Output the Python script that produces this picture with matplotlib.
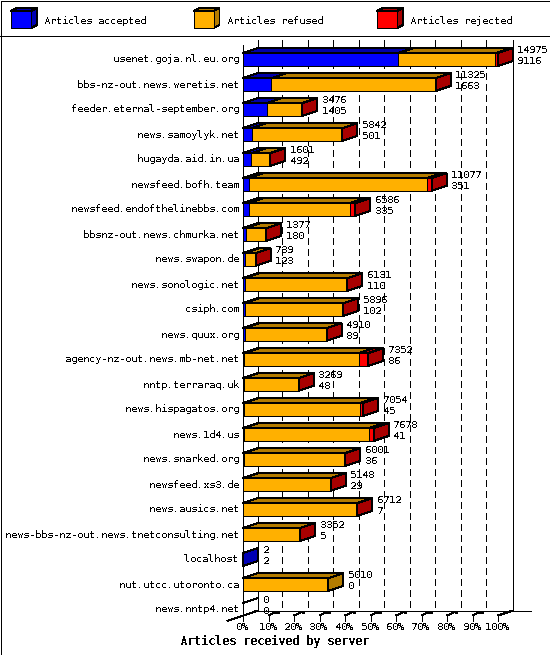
#!/usr/bin/env python
#
# Articles received by server, stacked 3D-look bars drawn by hand
#

import matplotlib
matplotlib.use("Agg")
import matplotlib.pyplot as plt
from matplotlib.patches import Polygon, Rectangle

servers = ["usenet.goja.nl.eu.org", "bbs-nz-out.news.weretis.net",
           "feeder.eternal-september.org", "news.samoylyk.net",
           "hugayda.aid.in.ua", "newsfeed.bofh.team",
           "newsfeed.endofthelinebbs.com", "bbsnz-out.news.chmurka.net",
           "news.swapon.de", "news.sonologic.net", "csiph.com",
           "news.quux.org", "agency-nz-out.news.mb-net.net",
           "nntp.terraraq.uk", "news.hispagatos.org", "news.1d4.us",
           "news.snarked.org", "newsfeed.xs3.de", "news.ausics.net",
           "news-bbs-nz-out.news.tnetconsulting.net", "localhost",
           "nut.utcc.utoronto.ca", "news.nntp4.net"]
totals = [14975, 11325, 3476, 5842, 1601, 11077, 6586, 1377, 739, 6131, 5896,
          4910, 7352, 3269, 7054, 7678, 6001, 5148, 6712, 3352, 2, 5010, 0]
accepted = [9116, 1663, 1405, 501, 492, 351, 335, 180, 123, 110, 102,
            89, 86, 48, 45, 41, 36, 29, 7, 5, 2, 0, 0]
# not printed in the chart, estimated from the width of the red segments
rejected = [150, 30, 10, 5, 3, 260, 330, 2, 1, 5, 3,
            4, 560, 2, 190, 280, 3, 10, 3, 5, 0, 0, 0]
tick_labels = ["0%", "10%", "20%", "30%", "40%", "50%", "60%", "70%", "80%",
               "90%", "100%"]
legend_labels = ["Articles accepted", "Articles refused", "Articles rejected"]

BLUE = ("#0000ff", "#0000a8", "#0000b4")
ORANGE = ("#ffb000", "#b47c00", "#b47c00")
RED = ("#ff0000", "#a80000", "#a80000")

PX = 0.72  # one pixel line width at 100 dpi
FONT = "DejaVu Sans Mono"
SIZE = 7.2

plt.rcParams["text.antialiased"] = False
plt.rcParams["text.hinting"] = "native"
plt.rcParams["text.hinting_factor"] = 1

W, H = 550, 655
X0, X100 = 243, 498      # front of the 0% and 100% lines
ROW0, PITCH = 59.5, 25   # centre of first row, row spacing
DX = 15.0 / (X100 - X0)  # depth of the bars in axis units
DY = 5.0 / PITCH
HALF = 6.4 / PITCH       # half height of a bar

fig = plt.figure(figsize=(W / 100, H / 100), dpi=100, facecolor="white")

# pixel layer for frame, legend and title
lax = fig.add_axes([0, 0, 1, 1])
lax.set_xlim(0, W)
lax.set_ylim(H, 0)
lax.axis("off")

# data layer, x is share of the largest total, y is row number
ax = fig.add_axes([0, 0, 1, 1])
ax.patch.set_alpha(0)
ax.set_xlim(-X0 / (X100 - X0), (W - X0) / (X100 - X0))
ax.set_ylim((H - ROW0) / PITCH, -ROW0 / PITCH)
ax.axis("off")


def face(points, color, z=3):
    ax.add_patch(Polygon(points, closed=True, facecolor=color, edgecolor="black",
                         linewidth=PX, antialiased=False, zorder=z))


def seg(x, y, color="black", lw=PX, ls="-", z=1):
    ax.plot(x, y, color=color, lw=lw, ls=ls, antialiased=False, zorder=z,
            solid_capstyle="butt", dash_capstyle="butt")


# walls, grid and floor
n = len(servers)
top = -ROW0 / PITCH + 40 / PITCH
floor = (610.5 - ROW0) / PITCH
for i in range(1, 10):
    x = i / 10 + DX - 0.004
    seg([x, x], [top, floor], ls=(0, (6, 5)))
seg([DX, DX], [top, floor])
seg([1 + DX, 1 + DX], [top, floor])
seg([0, 0], [top + DY, floor + DY + 0.2])
seg([DX - 0.004, 1 + DX + 18 / (X100 - X0)], [floor, floor])
seg([-16 / (X100 - X0), DX], [floor + 10.5 / PITCH, floor])
seg([1, 1 + DX], [floor + DY, floor])
for i in range(1, 11):
    x = i / 10
    seg([x, x], [floor + DY, floor + 10 / PITCH])
    if i < 10:
        seg([x, x + 0.03], [floor + DY, floor + 1.5 / PITCH])
        seg([x + 0.03, x + 0.04], [floor + 1 / PITCH, floor + 1 / PITCH], lw=3 * PX)
seg([0, 0], [floor + DY, floor + 10 / PITCH])

# bars
scale = max(totals)
for row in range(n):
    refused = totals[row] - accepted[row] - rejected[row]
    lo, hi = row - HALF, row + HALF
    start = 0.0
    last = None
    for value, colors in ((accepted[row], BLUE), (refused, ORANGE), (rejected[row], RED)):
        if value <= 0:
            continue
        end = start + value / scale
        face([(start, lo), (end, lo), (end + DX, lo - DY), (start + DX, lo - DY)], colors[1])
        face([(start, lo), (end, lo), (end, hi), (start, hi)], colors[0])
        start = end
        last = colors
    if last is None:
        # nothing received, only the top edge of the empty box
        seg([0, DX], [lo, lo - DY], z=3)
    else:
        face([(start, lo), (start + DX, lo - DY), (start + DX, hi - DY), (start, hi)], last[2])

    ax.text(-4.5 / (X100 - X0), row, servers[row], ha="right", va="center",
            family=FONT, fontsize=SIZE, zorder=5)
    label_x = totals[row] / scale + DX + 4.5 / (X100 - X0)
    ax.text(label_x, row - 9.5 / PITCH, str(totals[row]), ha="left", va="center",
            family=FONT, fontsize=SIZE, zorder=5)
    ax.text(label_x, row + 1.5 / PITCH, str(accepted[row]), ha="left", va="center",
            family=FONT, fontsize=SIZE, zorder=5)

for i, label in enumerate(tick_labels):
    ax.text(i / 10 - 1 / (X100 - X0), floor + 17 / PITCH, label, ha="center", va="center",
            family=FONT, fontsize=SIZE, zorder=5)

# frame
lax.add_patch(Rectangle((0.5, 0.5), W - 1, H - 1, fill=False, edgecolor="black",
                        linewidth=PX, antialiased=False))
lax.plot([0, W], [35.5, 35.5], color="black", lw=PX, antialiased=False)

# legend cubes
for left, colors, label in zip((11, 193.5, 377), (BLUE, ORANGE, RED), legend_labels):
    right = left + 20
    lax.add_patch(Polygon([(left, 11), (right, 11), (right + 6, 8), (left + 6, 8)], closed=True,
                          facecolor=colors[1], edgecolor="black", linewidth=PX, antialiased=False))
    lax.add_patch(Polygon([(right, 11), (right + 6, 8), (right + 6, 25), (right, 28)], closed=True,
                          facecolor=colors[2], edgecolor="black", linewidth=PX, antialiased=False))
    lax.add_patch(Rectangle((left, 11), 20, 17, facecolor=colors[0], edgecolor="black",
                            linewidth=PX, antialiased=False))
    lax.text(right + 13.5, 20.5, label, ha="left", va="center", family=FONT, fontsize=SIZE)

lax.text(274, 641, "Articles received by server", ha="center", va="center",
         family=FONT, fontweight="bold", fontsize=8.4)

fig.savefig("out.png", dpi=100)
